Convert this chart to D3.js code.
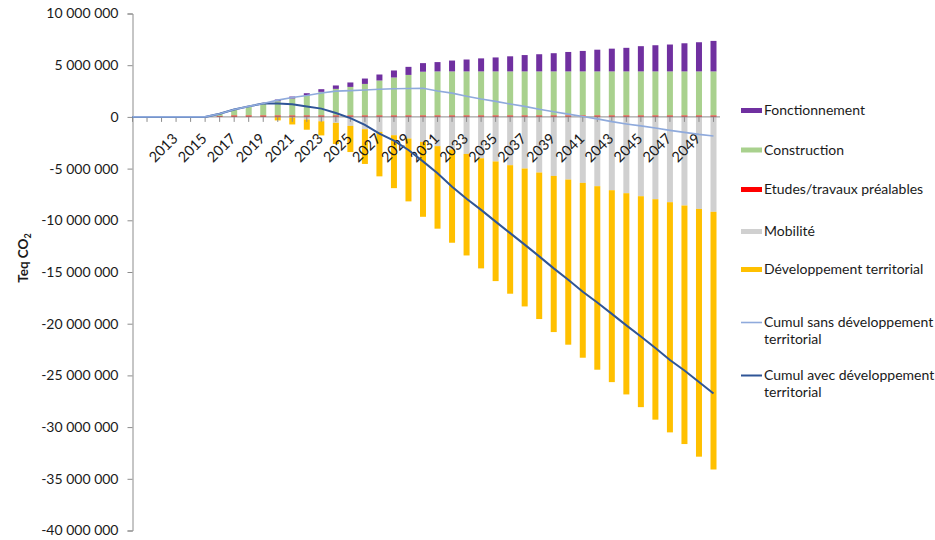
<!DOCTYPE html>
<html><head><meta charset="utf-8">
<script src="https://cdn.jsdelivr.net/npm/d3@7/dist/d3.min.js"></script>
<style>body{margin:0;background:#fff}svg{display:block}text{font-family:Lato,"Open Sans",sans-serif}</style>
</head><body>
<svg id="chart" width="935" height="540"></svg>
<script>
// Values in millions of t eq CO2
const years = [2010,2011,2012,2013,2014,2015,2016,2017,2018,2019,2020,2021,2022,2023,2024,2025,2026,2027,2028,2029,2030,
  2031,2032,2033,2034,2035,2036,2037,2038,2039,2040,2041,2042,2043,2044,2045,2046,2047,2048,2049,2050];
const etudes = [0,0,0,0,0,0,0.10,0.15,0.15,0.15,0.15,0.15,0.15,0.15,0.15,0.15,0.15,0.15,0.15,0.15,0.15,
  0.15,0.15,0.15,0.15,0.15,0.15,0.15,0.15,0.15,0.15,0.15,0.15,0.15,0.15,0.15,0.15,0.15,0.15,0.15,0.15];
const construction = [0,0,0,0,0,0,0.23,0.56,0.88,1.15,1.37,1.63,1.92,2.27,2.56,2.75,3.04,3.37,3.66,3.91,4.22,
  4.25,4.25,4.25,4.25,4.25,4.25,4.25,4.25,4.25,4.25,4.25,4.25,4.25,4.25,4.25,4.25,4.25,4.25,4.25,4.25];
const fonctionnement = [0,0,0,0,0,0,0,0.02,0.03,0.05,0.16,0.19,0.22,0.26,0.33,0.43,0.52,0.58,0.68,0.78,0.83,
  0.90,1.05,1.15,1.26,1.35,1.46,1.58,1.66,1.76,1.88,1.98,2.10,2.20,2.28,2.44,2.53,2.60,2.72,2.82,2.95];
const mobilite = [0,0,0,0,0,0,0,0,0,0,0,-0.05,-0.25,-0.42,-0.58,-0.87,-1.19,-1.45,-1.77,-2.09,-2.42,
  -2.83,-3.15,-3.58,-4.00,-4.31,-4.67,-4.99,-5.38,-5.71,-6.06,-6.38,-6.70,-7.09,-7.38,-7.67,-7.96,-8.25,-8.57,-8.90,-9.18];
const developpement = [0,0,0,0,0,0,0,0,0,0,-0.34,-0.68,-0.99,-1.37,-2.04,-2.53,-3.36,-4.30,-5.12,-6.08,-7.24,
  -7.98,-9.02,-9.82,-10.65,-11.57,-12.43,-13.34,-14.17,-15.10,-15.97,-16.91,-17.75,-18.56,-19.46,-20.40,-21.32,-22.26,-23.07,-23.96,-24.92];
const cumulSans = [0,0,0,0,0,0,0.30,0.72,1.02,1.30,1.62,1.88,2.07,2.31,2.49,2.54,2.60,2.67,2.72,2.75,2.77,
  2.51,2.30,2.00,1.73,1.50,1.25,1.02,0.74,0.50,0.27,0.04,-0.19,-0.46,-0.68,-0.87,-1.08,-1.30,-1.50,-1.69,-1.84];
const cumulAvec = [0,0,0,0,0,0,0.30,0.72,1.02,1.30,1.30,1.22,1.00,0.80,0.38,-0.12,-0.78,-1.62,-2.30,-3.20,-4.30,
  -5.45,-6.75,-7.92,-8.99,-10.13,-11.24,-12.35,-13.49,-14.65,-15.75,-16.91,-17.95,-19.05,-20.16,-21.23,-22.35,-23.51,-24.52,-25.64,-26.75];
const yTicks = [10,5,0,-5,-10,-15,-20,-25,-30,-35,-40];
const xTickLabels = ["2013","2015","2017","2019","2021","2023","2025","2027","2029","2031","2033","2035","2037","2039","2041","2043","2045","2047","2049"];

const seriesInfo = [
  {key:"etudes", name:"Etudes/travaux préalables", color:"#FF0000", data:etudes},
  {key:"construction", name:"Construction", color:"#A9D18E", data:construction},
  {key:"fonctionnement", name:"Fonctionnement", color:"#7030A0", data:fonctionnement},
  {key:"mobilite", name:"Mobilité", color:"#D0D0D0", data:mobilite},
  {key:"developpement", name:"Développement territorial", color:"#FFC000", data:developpement}
];
const rows = years.map((yr,i)=>{const r={year:yr}; seriesInfo.forEach(s=>r[s.key]=s.data[i]); return r;});

const svg = d3.select("#chart");
const x = d3.scalePoint().domain(years).range([132.5, 713.5]);
const y = d3.scaleLinear().domain([-40,10]).range([530.5,13.5]);
const fmt = v => d3.format(",")(v*1e6).replace(/,/g," ").replace("\u2212","-");
const axisColor = "#8c8c8c";
const textColor = "#1a1a1a";

// bars
const stack = d3.stack().keys(seriesInfo.map(s=>s.key)).offset(d3.stackOffsetDiverging);
const stacked = stack(rows);
const bw = 6;
svg.append("g").selectAll("g").data(stacked).join("g")
  .attr("fill",(d,i)=>seriesInfo[i].color)
  .selectAll("rect").data(d=>d).join("rect")
  .attr("x",d=>x(d.data.year)-bw/2).attr("width",bw)
  .attr("y",d=>y(Math.max(d[0],d[1])))
  .attr("height",d=>Math.abs(y(d[0])-y(d[1])));

// y axis
const yAxis = d3.axisLeft(y).tickValues(yTicks).tickFormat(fmt).tickSize(5).tickPadding(9);
const gy = svg.append("g").attr("transform","translate(132.5,0)").call(yAxis);
gy.select(".domain").attr("stroke",axisColor);
gy.selectAll(".tick line").attr("stroke",axisColor);
gy.selectAll(".tick text").attr("font-size","14px").attr("fill",textColor).style("font-family","Lato,'Open Sans',sans-serif");

// x axis at zero
const gx = svg.append("g").attr("transform",`translate(0,${y(0)})`);
gx.append("line").attr("x1",132.5).attr("x2",720).attr("stroke",axisColor);
gx.selectAll("line.t").data(years).join("line").attr("class","t")
  .attr("x1",d=>x(d)).attr("x2",d=>x(d)).attr("y1",0).attr("y2",5).attr("stroke",axisColor);
gx.selectAll("text").data(xTickLabels).join("text")
  .attr("transform",d=>`translate(${x(+d)-1},19) rotate(-45)`)
  .attr("text-anchor","end").attr("dy","0.35em")
  .attr("font-size","14.5px").attr("fill",textColor).text(d=>d);

// lines
const line = d3.line().x((d,i)=>x(years[i])).y(d=>y(d));
svg.append("path").datum(cumulAvec).attr("d",line).attr("fill","none").attr("stroke","#2F5597").attr("stroke-width",2);
svg.append("path").datum(cumulSans).attr("d",line).attr("fill","none").attr("stroke","#8FAADC").attr("stroke-width",1.6);

// y title
const yt = svg.append("text").attr("transform","translate(28,258) rotate(-90)").attr("text-anchor","middle")
  .attr("font-size","13.5px").attr("font-weight","bold").attr("fill",textColor);
yt.append("tspan").text("Teq CO");
yt.append("tspan").text("2").attr("font-size","9px").attr("dy","3");

// legend
const legend = [
  {name:"Fonctionnement", color:"#7030A0", type:"rect", y:110.5},
  {name:"Construction", color:"#A9D18E", type:"rect", y:150},
  {name:"Etudes/travaux préalables", color:"#FF0000", type:"rect", y:189.5},
  {name:"Mobilité", color:"#D0D0D0", type:"rect", y:231.5},
  {name:"Développement territorial", color:"#FFC000", type:"rect", y:269.5},
  {name:["Cumul sans développement","territorial"], color:"#8FAADC", type:"line", w:1.6, y:322.5},
  {name:["Cumul avec développement","territorial"], color:"#2F5597", type:"line", w:2, y:375.5}
];
const lg = svg.append("g");
legend.forEach(l=>{
  if(l.type==="rect") lg.append("rect").attr("x",741).attr("y",l.y-2.5).attr("width",21).attr("height",5).attr("fill",l.color);
  else lg.append("line").attr("x1",741).attr("x2",762).attr("y1",l.y).attr("y2",l.y).attr("stroke",l.color).attr("stroke-width",l.w);
  const names = Array.isArray(l.name)?l.name:[l.name];
  const t = lg.append("text").attr("x",764).attr("y",l.y).attr("font-size","14px").attr("fill",textColor);
  names.forEach((n,k)=>t.append("tspan").attr("x",764).attr("dy",k===0?"0.35em":"17px").text(n));
});
</script>
</body></html>
